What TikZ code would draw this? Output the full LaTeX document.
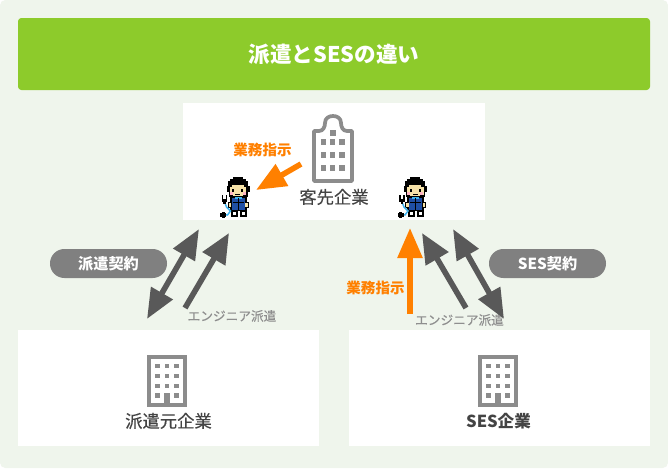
\documentclass[tikz,border=0pt]{standalone}
\usepackage{fontspec}
\setmainfont{Noto Sans CJK JP}
\newfontfamily\medfont[FakeBold=0.25]{Noto Sans CJK JP}
\usetikzlibrary{arrows.meta}
\definecolor{bgpale}{HTML}{EFF5EC}
\definecolor{hdrgreen}{HTML}{8DCB2B}
\definecolor{pillgray}{HTML}{808080}
\definecolor{arrowgray}{HTML}{595959}
\definecolor{orangeA}{HTML}{FF8000}
\definecolor{bldgray}{HTML}{8C8C8C}
\definecolor{txtdark}{HTML}{444444}
\definecolor{txtgray}{HTML}{8E8E8E}
\definecolor{skin}{HTML}{F6E2A8}
\definecolor{suit}{HTML}{1F4FA5}
\definecolor{cable}{HTML}{3FB5F0}
\definecolor{cheek}{HTML}{FFB4C4}
\tikzset{
  x=0.75pt,y=-0.75pt,
  panel/.style={draw=none,fill=white,inner sep=0,anchor=north west},
  pill/.style={fill=pillgray,rounded corners=10.8pt,text=white,inner sep=0,font=\bfseries\fontsize{11.4pt}{11.4pt}\selectfont,minimum width=87.75pt,minimum height=21.75pt},
  namelabel/.style={text=txtdark,inner sep=0,font=\medfont\fontsize{13pt}{13pt}\selectfont},
  engineer/.style={text=txtgray,inner sep=0,font=\medfont\fontsize{9.5pt}{9.5pt}\selectfont},
  order/.style={text=orangeA,inner sep=0,font=\bfseries\fontsize{10.9pt}{10.9pt}\selectfont},
  onehead/.style={line width=4.2pt,arrowgray,-{Triangle[length=22.5pt,width=19pt]}},
  twohead/.style={line width=4.2pt,arrowgray,{Triangle[length=22.5pt,width=18pt]}-{Triangle[length=22.5pt,width=18pt]}},
  orangehead/.style={line width=4.2pt,orangeA,-{Triangle[length=22.5pt,width=18pt]}},
  bldline/.style={draw=bldgray,line width=2.8pt,fill=white},
  win/.style={fill=bldgray,draw=none},
  office/.pic={
    \draw[bldline] (-18,-23) rectangle (18,25);
    \foreach \xx in {-9.5,0,9.5}\foreach \yy in {-14,-4,6}
      \fill[win] (\xx-2.4,\yy-2.4) rectangle (\xx+2.4,\yy+2.4);
    \foreach \xx in {-9.5,9.5}
      \fill[win] (\xx-2.4,13) rectangle (\xx+2.4,17.8);
    \fill[win] (-2.6,13) rectangle (2.6,25);
  },
  worker/.pic={
    % head outline and hair
    \fill[black] (13,0) rectangle (23,2);
    \fill[black] (10,2) rectangle (26,4);
    \fill[black] (8,4) rectangle (28,12);
    \fill[black] (7,9) rectangle (10,15);
    \fill[black] (26,9) rectangle (30,15);
    \fill[black] (9,13) rectangle (28,20);
    % face
    \fill[skin] (12,8) rectangle (24,10);
    \fill[skin] (10,10) rectangle (26.5,18);
    \fill[skin] (13,18) rectangle (23,19);
    \fill[black] (12.5,11.5) rectangle (14.5,14.5);
    \fill[black] (21.5,11.5) rectangle (23.5,14.5);
    \fill[black] (15.5,16.5) rectangle (20.5,17.5);
    \fill[cheek] (10,15) rectangle (13,18);
    \fill[cheek] (23,15) rectangle (26,18);
    % body
    \fill[black] (10,20) rectangle (27,34);
    \fill[suit] (12,20.5) rectangle (25,32.5);
    \fill[cable] (15,20) rectangle (22,21.5);
    \fill[black] (18,21) rectangle (19,33);
    \fill[black] (13,25) rectangle (24,26);
    % hands
    \fill[black] (8,25) rectangle (12,31);
    \fill[black] (25,25) rectangle (29,31);
    \fill[skin] (9,26) rectangle (11.5,30);
    \fill[skin] (25.5,26) rectangle (28,30);
    % feet
    \fill[black] (11,33) rectangle (18,40);
    \fill[black] (20,33) rectangle (27,40);
    \fill[white] (13,35) rectangle (16,38);
    \fill[white] (22,35) rectangle (25,38);
    % cable
    \draw[cable,line width=1.1pt] (5,25) -- (7,30) -- (11,34) -- (8,38) -- (5,37.5);
    % plug and socket
    \fill[black] (2,18) rectangle (3.7,23);
    \fill[black] (6,18) rectangle (7.7,23);
    \fill[black] (2,22) rectangle (7.7,24.5);
    \fill[black] (3.7,24) rectangle (6,27);
    \fill[black] (0.5,36) rectangle (6.5,39.5);
    \fill[black] (2,35) rectangle (5,40.5);
  }
}
\begin{document}
\begin{tikzpicture}
\useasboundingbox (0,0) rectangle (668,468);
\fill[white] (0,0) rectangle (668,468);
\fill[bgpale,rounded corners=4pt] (0,0) rectangle (668,468);
% header
\fill[hdrgreen,rounded corners=2.5pt] (18,18) rectangle (650,90);
\node[text=white,inner sep=0,font=\bfseries\fontsize{16.2pt}{16.2pt}\selectfont] (title) at (334,54) {派遣とSESの違い};
% panels
\node[panel,minimum width=226.5pt,minimum height=87.75pt] (client) at (183,103) {};
\node[panel,minimum width=225.75pt,minimum height=87pt] (dispatcher) at (18,330) {};
\node[panel,minimum width=225.75pt,minimum height=87pt] (ses) at (349,330) {};
% tall building
\draw[bldline,line join=round] (314,181) -- (314,131) -- (319,131)
  .. controls (323,131) and (325,127) .. (325,123)
  .. controls (325,118) and (329,116) .. (333,116)
  .. controls (337,116) and (341,118) .. (341,123)
  .. controls (341,127) and (343,131) .. (347,131)
  -- (352,131) -- (352,181) -- cycle;
\fill[win] (330,130) rectangle (335.5,136);
\foreach \yy in {142,155,168}\foreach \xx in {323.5,332.5,342}
  \fill[win] (\xx-2.7,\yy-3) rectangle (\xx+2.7,\yy+3);
% low buildings
\pic at (167,380) {office};
\pic at (498,380) {office};
% workers
\pic at (219.5,177) {worker};
\pic at (397,177) {worker};
% labels
\node[namelabel] (clientname) at (334,197) {客先企業};
\node[namelabel] (dispname) at (168.5,421) {派遣元企業};
\node[namelabel,font=\bfseries\fontsize{12.4pt}{12.4pt}\selectfont] (sesname) at (498.5,421) {SES企業};
\node[pill] (contractL) at (108.5,263.5) {派遣契約};
\node[pill] (contractR) at (547.5,263.5) {SES契約};
\node[order] (orderT) at (262.5,150) {業務指示};
\node[order] (orderB) at (375.5,288) {業務指示};
\node[engineer] (engL) at (232,316) {エンジニア派遣};
\node[engineer] (engR) at (459.5,320) {エンジニア派遣};
% connector ends
\coordinate (a1) at (199,229); \coordinate (a2) at (147,319);
\coordinate (b1) at (185,308); \coordinate (b2) at (229,233);
\coordinate (c1) at (453,229); \coordinate (c2) at (504,319);
\coordinate (d1) at (466,308); \coordinate (d2) at (422,233);
\coordinate (e1) at (410,314); \coordinate (e2) at (410,228);
\coordinate (f1) at (301,164); \coordinate (f2) at (256,190);
\draw[twohead] (a1) -- (a2);
\draw[onehead] (b1) -- (b2);
\draw[twohead] (c1) -- (c2);
\draw[onehead] (d1) -- (d2);
\draw[orangehead] (e1) -- (e2);
\draw[orangehead] (f1) -- (f2);
\end{tikzpicture}
\end{document}
